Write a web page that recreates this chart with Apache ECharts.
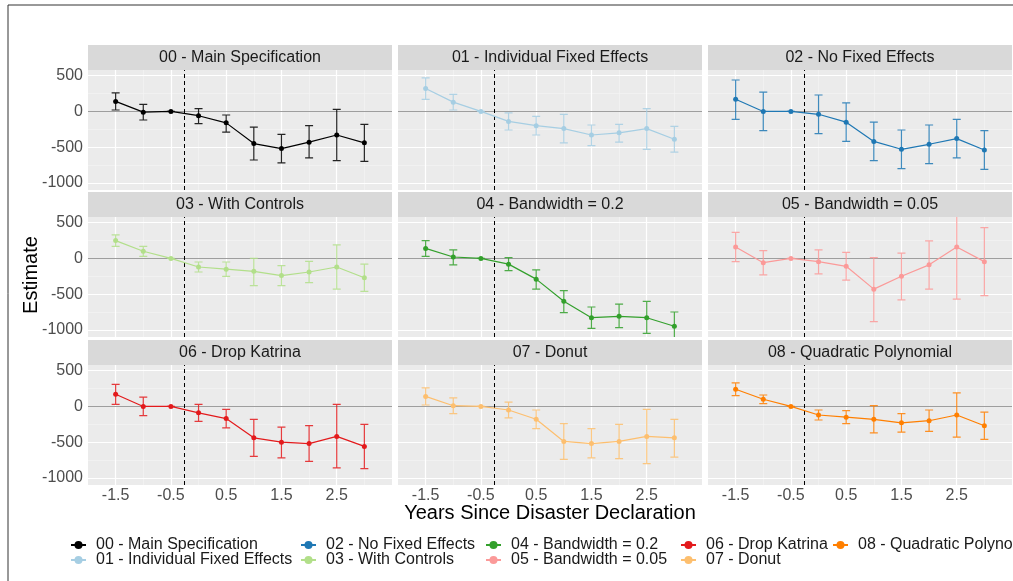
<!DOCTYPE html>
<html lang="en">
<head>
<meta charset="UTF-8">
<title>Event study</title>
<script src="https://cdn.jsdelivr.net/npm/echarts@6/dist/echarts.min.js"></script>
<style>html,body{margin:0;padding:0;background:#fff}</style>
</head>
<body>
<div id="main" style="width:1013px;height:581px;"></div>
<script>
var xs = [-1.5, -1, -0.5, 0, 0.5, 1, 1.5, 2, 2.5, 3];
var names = ['00 - Main Specification', '01 - Individual Fixed Effects', '02 - No Fixed Effects',
  '03 - With Controls', '04 - Bandwidth = 0.2', '05 - Bandwidth = 0.05',
  '06 - Drop Katrina', '07 - Donut', '08 - Quadratic Polynomial'];
var colors = ['#000000', '#A6CEE3', '#1F78B4', '#B2DF8A', '#33A02C', '#FB9A99', '#E31A1C', '#FDBF6F', '#FF7F00'];
var est = [
  [140, -10, 0, -60, -160, -450, -520, -430, -330, -440],
  [320, 130, 0, -140, -200, -240, -330, -300, -240, -390],
  [170, 0, 0, -40, -150, -420, -530, -460, -380, -540],
  [250, 100, 0, -120, -150, -180, -240, -190, -120, -270],
  [140, 20, 0, -80, -290, -600, -830, -810, -830, -950],
  [160, -60, 0, -45, -110, -430, -250, -90, 160, -45],
  [170, 0, 0, -90, -170, -440, -500, -520, -420, -560],
  [140, 10, 0, -50, -180, -490, -520, -490, -420, -440],
  [240, 100, 0, -120, -150, -180, -230, -200, -120, -270]
];
var lo = [
  [20, -120, 0, -170, -290, -680, -720, -650, -690, -700],
  [170, 20, 0, -260, -330, -440, -480, -430, -530, -570],
  [-110, -270, 0, -310, -420, -690, -800, -730, -650, -810],
  [170, 30, 0, -190, -250, -380, -380, -340, -430, -460],
  [30, -90, 0, -170, -430, -760, -980, -970, -1050, -1150],
  [-45, -230, 0, -215, -305, -885, -580, -430, -570, -520],
  [30, -130, 0, -210, -300, -700, -720, -770, -860, -870],
  [20, -100, 0, -160, -310, -740, -720, -730, -800, -710],
  [150, 40, 0, -190, -240, -370, -360, -350, -430, -460]
];
var hi = [
  [260, 100, 0, 40, -50, -220, -320, -200, 30, -180],
  [470, 240, 0, -20, -70, -40, -190, -180, 40, -210],
  [440, 270, 0, 230, 120, -150, -260, -190, -110, -270],
  [330, 170, 0, -50, -50, 0, -100, -40, 190, -80],
  [250, 120, 0, 10, -160, -450, -680, -640, -600, -750],
  [365, 110, 0, 120, 85, 10, 75, 245, 620, 430],
  [310, 130, 0, 30, -40, -180, -290, -270, 30, -250],
  [260, 120, 0, 60, -50, -240, -310, -250, -40, -180],
  [330, 160, 0, -50, -60, 10, -100, -50, 190, -80]
];
var xMajor = [-1.5, -0.5, 0.5, 1.5, 2.5];
var xMinor = [-1, 0, 1, 2, 3];
var yMajor = [-1000, -500, 0, 500];
var yMinor = [-750, -250, 250];

var lefts = [88, 398, 708], tops = [70, 217, 365], W = 304, H = 120;
var grids = [], xAxes = [], yAxes = [], series = [], graphics = [], legends = [];
var lblColor = '#4D4D4D';

graphics.push({type: 'rect', shape: {x: 8, y: 5, width: 1020, height: 590}, style: {fill: 'none', stroke: '#333', lineWidth: 1}});

for (var p = 0; p < 9; p++) {
  var r = Math.floor(p / 3), c = p % 3;
  grids.push({left: lefts[c], top: tops[r], width: W, height: H, backgroundColor: '#EBEBEB', show: true, borderWidth: 0});
  xAxes.push({
    type: 'value', gridIndex: p, min: -2, max: 3.5, interval: 0.5,
    axisLine: {show: false}, splitLine: {show: false},
    axisTick: {show: r === 2, length: 3, lineStyle: {color: '#333'}, customValues: xMajor},
    axisLabel: {show: r === 2, color: lblColor, fontSize: 16, customValues: xMajor, margin: 3}
  });
  yAxes.push({
    type: 'value', gridIndex: p, min: -1100, max: 580,
    axisLine: {show: false}, splitLine: {show: false},
    axisTick: {show: c === 0, length: 3, lineStyle: {color: '#333'}, customValues: yMajor},
    axisLabel: {show: c === 0, color: lblColor, fontSize: 16, customValues: yMajor, margin: 5,
      formatter: function (v) { return String(v); }}
  });
  graphics.push({type: 'rect', shape: {x: lefts[c], y: tops[r] - 25, width: W, height: 25}, style: {fill: '#D9D9D9'}});
  graphics.push({type: 'text', x: lefts[c] + W / 2, y: tops[r] - 12.5,
    style: {text: names[p], fill: '#1A1A1A', fontSize: 16, align: 'center', verticalAlign: 'middle', fontFamily: 'Liberation Sans'}});

  var gl = [];
  xMinor.forEach(function (v) { gl.push({xAxis: v, lineStyle: {color: '#F5F5F5', width: 0.6, type: 'solid'}}); });
  yMinor.forEach(function (v) { gl.push({yAxis: v, lineStyle: {color: '#F5F5F5', width: 0.6, type: 'solid'}}); });
  xMajor.forEach(function (v) { gl.push({xAxis: v, lineStyle: {color: '#FFFFFF', width: 1.2, type: 'solid'}}); });
  yMajor.forEach(function (v) { gl.push({yAxis: v, lineStyle: {color: '#FFFFFF', width: 1.2, type: 'solid'}}); });
  gl.push({yAxis: 0, lineStyle: {color: '#9E9E9E', width: 1, type: 'solid'}});
  gl.push({xAxis: -0.25, lineStyle: {color: '#000', width: 1, type: [4, 3]}});
  series.push({type: 'line', xAxisIndex: p, yAxisIndex: p, data: [], silent: true, z: 1,
    markLine: {silent: true, symbol: 'none', label: {show: false}, animation: false, data: gl}});

  var pts = xs.map(function (x, i) { return [x, est[p][i]]; });
  var bars = xs.map(function (x, i) { return [x, lo[p][i], hi[p][i]]; });
  (function (col) {
    series.push({type: 'custom', xAxisIndex: p, yAxisIndex: p, data: bars, zlevel: 1, z: 3, clip: true,
      renderItem: function (params, api) {
        var a = api.coord([api.value(0), api.value(1)]);
        var b = api.coord([api.value(0), api.value(2)]);
        return {type: 'polyline',
          shape: {points: [[a[0] - 4, a[1]], [a[0] + 4, a[1]], [a[0], a[1]], [b[0], b[1]], [b[0] - 4, b[1]], [b[0] + 4, b[1]]]},
          style: {stroke: col, fill: null, lineWidth: 1.2, opacity: 0.85}};
      }});
  })(colors[p]);
  series.push({name: names[p], type: 'line', xAxisIndex: p, yAxisIndex: p, data: pts, zlevel: 1, z: 4,
    symbol: 'circle', symbolSize: 5, color: colors[p], lineStyle: {width: 1.2}, animation: false});
}

var legX = [70, 300, 485, 680, 832];
for (var k = 0; k < 9; k++) {
  var col = Math.floor(k / 2), row = k % 2;
  legends.push({data: [names[k]], left: legX[col], top: 537 + row * 15, itemWidth: 15, itemHeight: 10,
    itemGap: 4, padding: 0, textStyle: {fontSize: 16, color: '#1A1A1A', padding: [0, 0, 0, 5]}, selectedMode: false});
}

graphics.push({type: 'text', x: 550, y: 513, style: {text: 'Years Since Disaster Declaration', fill: '#000',
  fontSize: 20, align: 'center', verticalAlign: 'middle', fontFamily: 'Liberation Sans'}});
graphics.push({type: 'text', x: 31, y: 275, rotation: Math.PI / 2, style: {text: 'Estimate', fill: '#000',
  fontSize: 20, align: 'center', verticalAlign: 'middle', fontFamily: 'Liberation Sans'}});

var chart = echarts.init(document.getElementById('main'));
chart.setOption({
  animation: false,
  textStyle: {fontFamily: 'Liberation Sans'},
  grid: grids, xAxis: xAxes, yAxis: yAxes, series: series, legend: legends, graphic: graphics
});
</script>
</body>
</html>
